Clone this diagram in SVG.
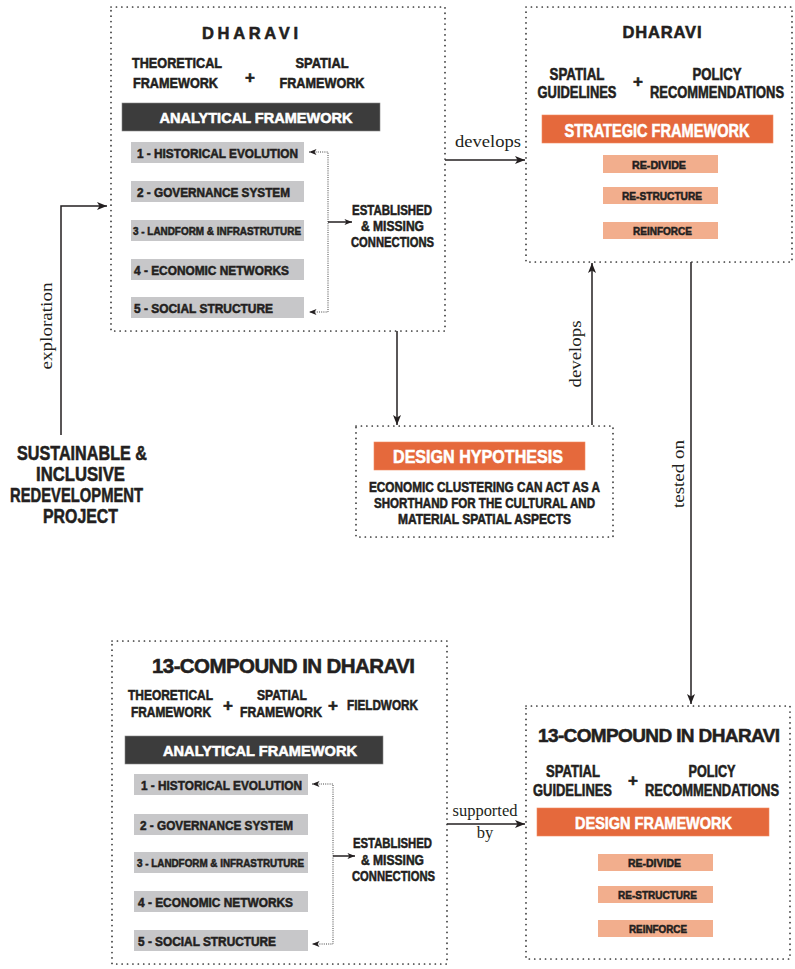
<svg xmlns="http://www.w3.org/2000/svg" width="795" height="969" viewBox="0 0 795 969">
<style>
.b{font-family:"Liberation Sans Narrow","Liberation Sans",Arial,sans-serif;font-weight:bold;fill:#231f20;stroke:#231f20;stroke-width:0.55px}
.w{fill:#ffffff;stroke:#ffffff}
.m{text-anchor:middle}
.s{font-family:"Liberation Serif","Times New Roman",serif;font-size:16.5px;fill:#231f20;text-anchor:middle}
.box{fill:none;stroke:#333;stroke-width:1.7;stroke-linecap:round;stroke-dasharray:0.1 5.3}
.dark{fill:#3c3c3c;stroke:#888;stroke-width:0.6}
.grey{fill:#c7c7c9}
.org{fill:#e5693c;stroke:#f08a60;stroke-width:0.6}
.lt{fill:#f2ae8d}
.con{fill:none;stroke:#231f20;stroke-width:1.5}
.dot{fill:none;stroke:#444;stroke-width:1;stroke-dasharray:1 1.2}
.t15{font-size:13.5px}
.t11{font-size:11.5px}
.pl{font-size:17px}
</style>
<defs>
<marker id="ah" viewBox="0 0 10 8" refX="10" refY="4" markerWidth="10" markerHeight="8" markerUnits="userSpaceOnUse" orient="auto-start-reverse">
<path d="M0,0 L10,4 L0,8 L2.5,4 z" fill="#231f20"/>
</marker>
<marker id="as" viewBox="0 0 10 8" refX="10" refY="4" markerWidth="8" markerHeight="6" markerUnits="userSpaceOnUse" orient="auto-start-reverse">
<path d="M0,0 L10,4 L0,8 L2.5,4 z" fill="#231f20"/>
</marker>
</defs>

<g id="connectors">
<path class="con" d="M61,435 V206 H107" marker-end="url(#ah)"/>
<path class="con" d="M445,160 H525" marker-end="url(#ah)"/>
<path class="con" d="M397,331 V425" marker-end="url(#ah)"/>
<path class="con" d="M592,425 V263" marker-end="url(#ah)"/>
<path class="con" d="M691,262 V704" marker-end="url(#ah)"/>
<path class="con" d="M447,824 H525" marker-end="url(#ah)"/>
<text class="s" x="488" y="147" textLength="66" lengthAdjust="spacingAndGlyphs">develops</text>
<text class="s" transform="translate(52,326) rotate(-90)" textLength="87" lengthAdjust="spacingAndGlyphs">exploration</text>
<text class="s" transform="translate(581,354) rotate(-90)" textLength="67" lengthAdjust="spacingAndGlyphs">develops</text>
<text class="s" transform="translate(684,474) rotate(-90)" textLength="68" lengthAdjust="spacingAndGlyphs">tested on</text>
<text class="s" x="485" y="816" textLength="65" lengthAdjust="spacingAndGlyphs">supported</text>
<text class="s" x="485" y="838">by</text>
</g>

<g id="project">
<text class="b m" font-size="20" x="82" y="460" textLength="130" lengthAdjust="spacingAndGlyphs">SUSTAINABLE &amp;</text>
<text class="b m" font-size="20" x="80.5" y="481" textLength="89" lengthAdjust="spacingAndGlyphs">INCLUSIVE</text>
<text class="b m" font-size="20" x="76.5" y="502" textLength="133" lengthAdjust="spacingAndGlyphs">REDEVELOPMENT</text>
<text class="b m" font-size="20" x="80.5" y="523" textLength="75" lengthAdjust="spacingAndGlyphs">PROJECT</text>
</g>

<g id="dharavi-analysis">
<rect class="box" x="111" y="7" width="334" height="324"/>
<text class="b m" font-size="16.5" x="250" y="39" textLength="96" lengthAdjust="spacing">DHARAVI</text>
<text class="b m" font-size="14.5" x="177" y="68" textLength="90" lengthAdjust="spacingAndGlyphs">THEORETICAL</text>
<text class="b m" font-size="14.5" x="175.5" y="88" textLength="85" lengthAdjust="spacingAndGlyphs">FRAMEWORK</text>
<text class="b m pl" x="250" y="83">+</text>
<text class="b m" font-size="14.5" x="322" y="68" textLength="53" lengthAdjust="spacingAndGlyphs">SPATIAL</text>
<text class="b m" font-size="14.5" x="322" y="88" textLength="85" lengthAdjust="spacingAndGlyphs">FRAMEWORK</text>
<rect class="dark" x="122" y="103" width="258" height="28"/>
<text class="b w m" font-size="15" x="256" y="123" textLength="193" lengthAdjust="spacingAndGlyphs">ANALYTICAL FRAMEWORK</text>
<rect class="grey" x="131" y="142" width="173" height="21"/>
<rect class="grey" x="131" y="181" width="173" height="21"/>
<rect class="grey" x="131" y="220" width="173" height="21"/>
<rect class="grey" x="131" y="259" width="173" height="21"/>
<rect class="grey" x="131" y="297" width="173" height="21"/>
<text class="b t15" x="137" y="158" textLength="161" lengthAdjust="spacingAndGlyphs">1 - HISTORICAL EVOLUTION</text>
<text class="b t15" x="137" y="197" textLength="153" lengthAdjust="spacingAndGlyphs">2 - GOVERNANCE SYSTEM</text>
<text class="b t11" x="133" y="235" textLength="168" lengthAdjust="spacingAndGlyphs">3 - LANDFORM &amp; INFRASTRUTURE</text>
<text class="b t15" x="134" y="275" textLength="155" lengthAdjust="spacingAndGlyphs">4 - ECONOMIC NETWORKS</text>
<text class="b t15" x="134" y="313" textLength="139" lengthAdjust="spacingAndGlyphs">5 - SOCIAL STRUCTURE</text>
<path class="dot" d="M309,152 H328 V312 H309" marker-start="url(#as)" marker-end="url(#as)"/>
<path class="con" stroke-width="1.2" d="M328,222 H352" marker-end="url(#as)"/>
<text class="b m" font-size="15" x="392" y="215" textLength="80" lengthAdjust="spacingAndGlyphs">ESTABLISHED</text>
<text class="b m" font-size="15" x="392.5" y="231" textLength="63" lengthAdjust="spacingAndGlyphs">&amp; MISSING</text>
<text class="b m" font-size="15" x="392.5" y="247" textLength="83" lengthAdjust="spacingAndGlyphs">CONNECTIONS</text>
</g>

<g id="dharavi-strategy">
<rect class="box" x="526" y="7" width="266" height="255"/>
<text class="b m" font-size="16.5" x="662" y="38" textLength="79" lengthAdjust="spacing">DHARAVI</text>
<text class="b m" font-size="16" x="577" y="80" textLength="55" lengthAdjust="spacingAndGlyphs">SPATIAL</text>
<text class="b m" font-size="16" x="577" y="98" textLength="79" lengthAdjust="spacingAndGlyphs">GUIDELINES</text>
<text class="b m pl" x="638" y="87">+</text>
<text class="b m" font-size="16" x="717" y="80" textLength="49" lengthAdjust="spacingAndGlyphs">POLICY</text>
<text class="b m" font-size="16" x="717" y="98" textLength="134" lengthAdjust="spacingAndGlyphs">RECOMMENDATIONS</text>
<rect class="org" x="542" y="115" width="231" height="28"/>
<text class="b w m" font-size="18" x="657" y="137" textLength="185" lengthAdjust="spacingAndGlyphs">STRATEGIC FRAMEWORK</text>
<rect class="lt" x="603" y="155" width="115" height="18"/>
<rect class="lt" x="603" y="187" width="115" height="17"/>
<rect class="lt" x="603" y="222" width="115" height="17"/>
<text class="b m t11" x="659" y="168.5" textLength="54" lengthAdjust="spacingAndGlyphs">RE-DIVIDE</text>
<text class="b m t11" x="662" y="200" textLength="80" lengthAdjust="spacingAndGlyphs">RE-STRUCTURE</text>
<text class="b m t11" x="662.5" y="235" textLength="59" lengthAdjust="spacingAndGlyphs">REINFORCE</text>
</g>

<g id="design-hypothesis">
<rect class="box" x="356" y="426" width="257" height="111"/>
<rect class="org" x="374" y="442" width="211" height="28"/>
<text class="b w m" font-size="19" x="478" y="463" textLength="170" lengthAdjust="spacingAndGlyphs">DESIGN HYPOTHESIS</text>
<text class="b m" font-size="14.5" x="484.5" y="492" textLength="231" lengthAdjust="spacingAndGlyphs">ECONOMIC CLUSTERING CAN ACT AS A</text>
<text class="b m" font-size="14.5" x="484.5" y="508" textLength="221" lengthAdjust="spacingAndGlyphs">SHORTHAND FOR THE CULTURAL AND</text>
<text class="b m" font-size="14.5" x="484.5" y="524" textLength="173" lengthAdjust="spacingAndGlyphs">MATERIAL SPATIAL ASPECTS</text>
</g>

<g id="compound-analysis">
<rect class="box" x="112" y="641" width="335" height="323"/>
<text class="b m" font-size="20.5" x="283.5" y="673" textLength="263" lengthAdjust="spacing">13-COMPOUND IN DHARAVI</text>
<text class="b m" font-size="14.5" x="170.5" y="700" textLength="85" lengthAdjust="spacingAndGlyphs">THEORETICAL</text>
<text class="b m" font-size="14.5" x="171" y="717" textLength="80" lengthAdjust="spacingAndGlyphs">FRAMEWORK</text>
<text class="b m pl" x="228" y="711">+</text>
<text class="b m" font-size="14.5" x="282" y="700" textLength="50" lengthAdjust="spacingAndGlyphs">SPATIAL</text>
<text class="b m" font-size="14.5" x="281" y="717" textLength="82" lengthAdjust="spacingAndGlyphs">FRAMEWORK</text>
<text class="b m pl" x="333" y="711">+</text>
<text class="b m" font-size="14.5" x="382.5" y="710" textLength="71" lengthAdjust="spacingAndGlyphs">FIELDWORK</text>
<rect class="dark" x="125" y="736" width="258" height="28"/>
<text class="b w m" font-size="15" x="260" y="756" textLength="194" lengthAdjust="spacingAndGlyphs">ANALYTICAL FRAMEWORK</text>
<rect class="grey" x="134" y="774" width="174" height="21"/>
<rect class="grey" x="134" y="814" width="174" height="21"/>
<rect class="grey" x="134" y="852" width="174" height="21"/>
<rect class="grey" x="134" y="891" width="174" height="21"/>
<rect class="grey" x="134" y="930" width="174" height="21"/>
<text class="b t15" x="141" y="790" textLength="161" lengthAdjust="spacingAndGlyphs">1 - HISTORICAL EVOLUTION</text>
<text class="b t15" x="140" y="830" textLength="153" lengthAdjust="spacingAndGlyphs">2 - GOVERNANCE SYSTEM</text>
<text class="b t11" x="137" y="867" textLength="167" lengthAdjust="spacingAndGlyphs">3 - LANDFORM &amp; INFRASTRUTURE</text>
<text class="b t15" x="138" y="907" textLength="155" lengthAdjust="spacingAndGlyphs">4 - ECONOMIC NETWORKS</text>
<text class="b t15" x="138" y="946" textLength="138" lengthAdjust="spacingAndGlyphs">5 - SOCIAL STRUCTURE</text>
<path class="dot" d="M312,784 H333 V944 H312" marker-start="url(#as)" marker-end="url(#as)"/>
<path class="con" stroke-width="1.2" d="M333,856 H355" marker-end="url(#as)"/>
<text class="b m" font-size="15" x="392.5" y="848" textLength="79" lengthAdjust="spacingAndGlyphs">ESTABLISHED</text>
<text class="b m" font-size="15" x="392.5" y="865" textLength="63" lengthAdjust="spacingAndGlyphs">&amp; MISSING</text>
<text class="b m" font-size="15" x="393.5" y="881" textLength="83" lengthAdjust="spacingAndGlyphs">CONNECTIONS</text>
</g>

<g id="compound-design">
<rect class="box" x="526" y="706" width="264" height="253"/>
<text class="b m" font-size="19" x="659" y="742" textLength="242" lengthAdjust="spacing">13-COMPOUND IN DHARAVI</text>
<text class="b m" font-size="16" x="573" y="777" textLength="54" lengthAdjust="spacingAndGlyphs">SPATIAL</text>
<text class="b m" font-size="16" x="572.5" y="796" textLength="79" lengthAdjust="spacingAndGlyphs">GUIDELINES</text>
<text class="b m pl" x="633" y="786">+</text>
<text class="b m" font-size="16" x="712" y="777" textLength="47" lengthAdjust="spacingAndGlyphs">POLICY</text>
<text class="b m" font-size="16" x="712" y="796" textLength="134" lengthAdjust="spacingAndGlyphs">RECOMMENDATIONS</text>
<rect class="org" x="537" y="808" width="232" height="28"/>
<text class="b w m" font-size="16.5" x="653.5" y="829" textLength="157" lengthAdjust="spacingAndGlyphs">DESIGN FRAMEWORK</text>
<rect class="lt" x="598" y="854" width="115" height="17"/>
<rect class="lt" x="598" y="886" width="115" height="17"/>
<rect class="lt" x="598" y="920" width="115" height="17"/>
<text class="b m t11" x="654.5" y="866.5" textLength="53" lengthAdjust="spacingAndGlyphs">RE-DIVIDE</text>
<text class="b m t11" x="657.5" y="898.5" textLength="79" lengthAdjust="spacingAndGlyphs">RE-STRUCTURE</text>
<text class="b m t11" x="658" y="932.5" textLength="58" lengthAdjust="spacingAndGlyphs">REINFORCE</text>
</g>
</svg>
